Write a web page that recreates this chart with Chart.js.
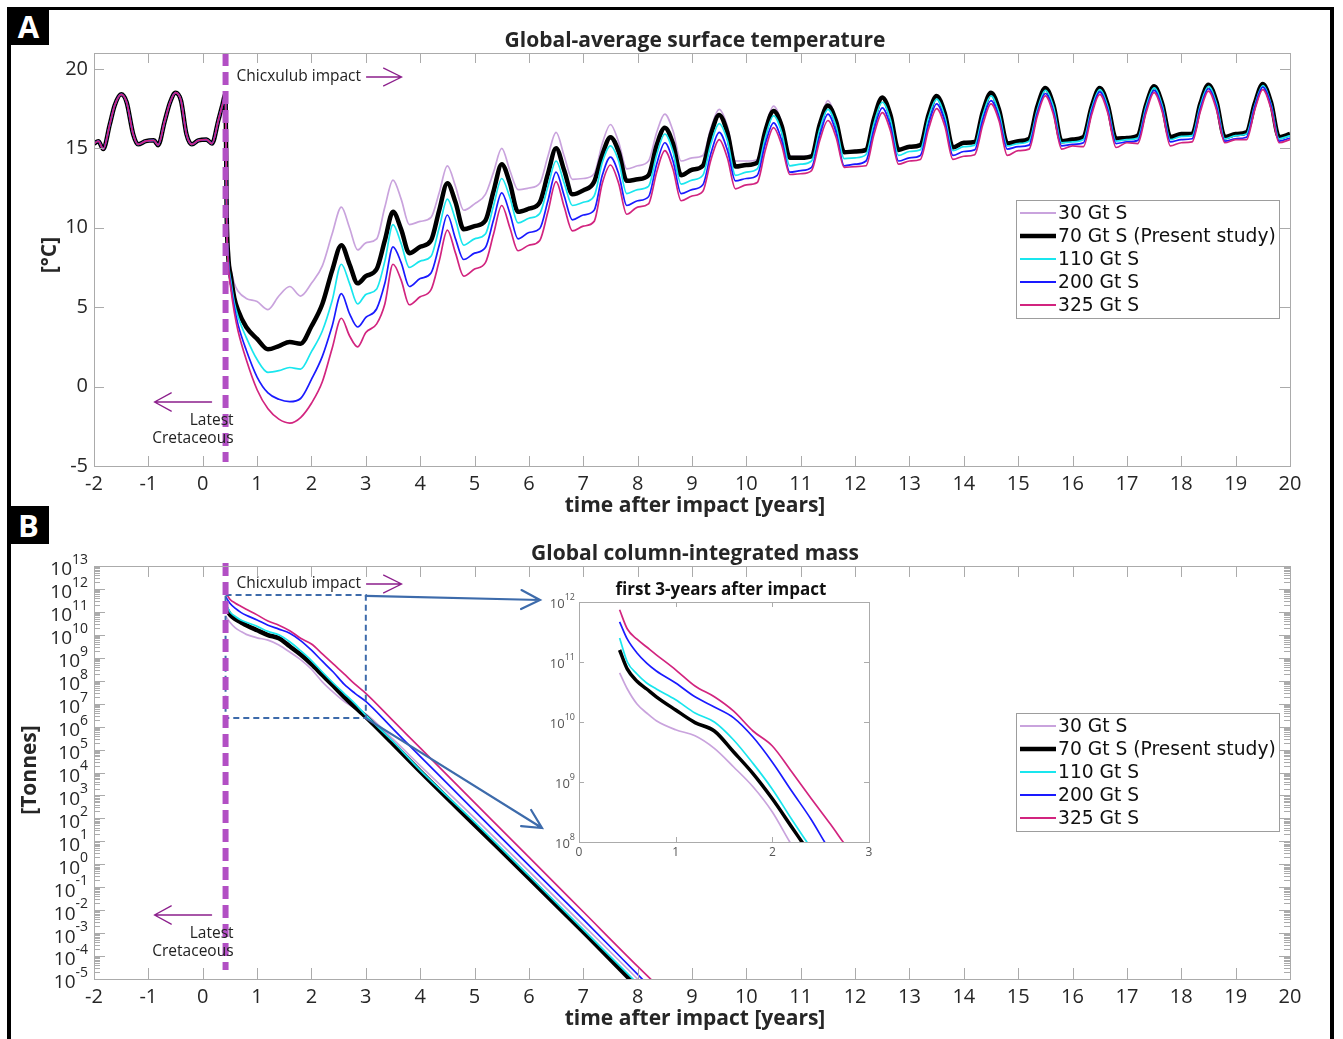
<!DOCTYPE html>
<html>
<head>
<meta charset="utf-8">
<script src="https://cdn.jsdelivr.net/npm/chart.js@4.4.1/dist/chart.umd.min.js"></script>
<style>
  body { margin: 0; background: #fff; width: 1343px; height: 1039px; overflow: hidden; position: relative; }
  canvas { position: absolute; }
  .bar { position: absolute; background: #000; }
  .tag { position: absolute; background: #000; color: #fff; font: bold 31px "Open Sans", sans-serif;
         text-align: center; line-height: 38px; width: 41px; height: 38px; left: 8px; }
</style>
</head>
<body>
<div class="bar" style="left:8px;top:7px;width:1326px;height:3px"></div>
<div class="bar" style="left:7px;top:7px;width:4px;height:1032px"></div>
<div class="bar" style="left:1330px;top:7px;width:4px;height:1032px"></div>
<div class="tag" style="top:7px">A</div>
<div class="tag" style="top:506px">B</div>

<canvas id="tempChart" width="1343" height="520" style="left:0;top:0"></canvas>
<canvas id="massChart" width="1343" height="519" style="left:0;top:520px"></canvas>
<canvas id="insetChart" width="370" height="300" style="left:520px;top:570px"></canvas>

<script>
// ---- data ----
const seriesLabels = ['30 Gt S', '70 Gt S (Present study)', '110 Gt S', '200 Gt S', '325 Gt S'];
const impactYear = 0.42;

const yearTicks = [-2, -1, 0, 1, 2, 3, 4, 5, 6, 7, 8, 9, 10, 11, 12, 13, 14, 15, 16, 17, 18, 19, 20];
const tempTicks = [-5, 0, 5, 10, 15, 20];
const massTickExps = [-5, -4, -3, -2, -1, 0, 1, 2, 3, 4, 5, 6, 7, 8, 9, 10, 11, 12, 13];
const insetYearTicks = [0, 1, 2, 3];
const insetTickExps = [8, 9, 10, 11, 12];

// surface temperature before the impact (same for every run)
const preImpactYears = [-2.0, -1.92, -1.83, -1.71, -1.62, -1.5, -1.4, -1.28, -1.19, -1.05, -0.9, -0.82,
  -0.7, -0.6, -0.5, -0.4, -0.3, -0.2, -0.08, 0.07, 0.17, 0.29, 0.36];
const preImpactTemp = [15.3, 15.45, 14.95, 16.5, 17.7, 18.4, 17.9, 15.9, 15.25, 15.45, 15.5, 15.2,
  16.7, 17.9, 18.5, 18.0, 15.9, 15.25, 15.5, 15.55, 15.3, 16.8, 17.7];

const postImpactYears = [0.42, 0.44, 0.47, 0.52, 0.58, 0.65, 0.8, 1.0, 1.2, 1.4, 1.6, 1.8, 2.0, 2.2, 2.38, 2.55, 2.7, 2.85,
  3.0, 3.2, 3.35, 3.5, 3.65, 3.8,
  4.0, 4.2, 4.35, 4.5, 4.65, 4.8,
  5.0, 5.2, 5.35, 5.5, 5.65, 5.8,
  6.0, 6.2, 6.35, 6.5, 6.65, 6.8,
  7.0, 7.2, 7.35, 7.5, 7.65, 7.8,
  8.0, 8.2, 8.35, 8.5, 8.65, 8.8,
  9.0, 9.2, 9.35, 9.5, 9.65, 9.8,
  10.0, 10.2, 10.35, 10.5, 10.65, 10.8,
  11.0, 11.2, 11.35, 11.5, 11.65, 11.8,
  12.0, 12.2, 12.35, 12.5, 12.65, 12.8,
  13.0, 13.2, 13.35, 13.5, 13.65, 13.8,
  14.0, 14.2, 14.35, 14.5, 14.65, 14.8,
  15.0, 15.2, 15.35, 15.5, 15.65, 15.8,
  16.0, 16.2, 16.35, 16.5, 16.65, 16.8,
  17.0, 17.2, 17.35, 17.5, 17.65, 17.8,
  18.0, 18.2, 18.35, 18.5, 18.65, 18.8,
  19.0, 19.2, 19.35, 19.5, 19.65, 19.8,
  20.0];

const temp30 = [18.4, 11.5, 8.6, 7.4, 6.5, 6.0, 5.55, 5.35, 4.85, 5.7, 6.3, 5.7, 6.5, 7.6, 9.6, 11.3, 10.0, 8.6,
  9.05, 9.3, 11.3, 13.0, 11.8, 10.2,
  10.4, 10.65, 12.2, 13.9, 12.6, 11.1,
  11.5, 12.1, 13.5, 15.0, 13.6, 12.4,
  12.5, 12.8, 14.5, 16.0, 14.5, 13.05,
  13.1, 13.4, 15.3, 16.5, 15.4, 13.7,
  13.9, 14.2, 16.0, 17.15, 16.1, 14.2,
  14.4, 14.55, 16.3, 17.45, 16.4, 14.2,
  14.2, 14.3, 16.3, 17.65, 16.6, 14.5,
  14.5, 14.6, 16.6, 18.0, 16.8, 14.8,
  14.85, 14.9, 16.9, 18.2, 17.1, 14.9,
  15.05, 15.15, 17.1, 18.25, 17.2, 15.0,
  15.3, 15.35, 17.2, 18.4, 17.3, 15.2,
  15.35, 15.5, 17.5, 18.75, 17.6, 15.4,
  15.5, 15.6, 17.55, 18.75, 17.65, 15.5,
  15.6, 15.7, 17.65, 18.85, 17.75, 15.6,
  15.8, 15.85, 17.75, 18.95, 17.85, 15.6,
  15.8, 15.9, 17.75, 19.0, 17.85, 15.6,
  15.85];

const temp70 = [18.4, 11.0, 8.2, 6.9, 5.6, 4.8, 3.75, 3.0, 2.35, 2.55, 2.8, 2.7, 3.8, 5.2, 7.3, 8.9, 7.7, 6.5,
  6.95, 7.4, 9.2, 11.0, 9.9, 8.4,
  8.8, 9.2, 11.1, 12.8, 11.6, 9.9,
  10.1, 10.45, 12.3, 14.0, 12.8, 11.0,
  11.2, 11.6, 13.4, 15.0, 13.6, 12.1,
  12.35, 12.9, 14.6, 15.7, 14.8, 12.95,
  13.05, 13.3, 15.2, 16.3, 15.3, 13.3,
  13.65, 13.9, 15.9, 17.1, 16.0, 13.85,
  13.95, 14.1, 16.1, 17.35, 16.4, 14.4,
  14.4, 14.5, 16.5, 17.7, 16.7, 14.75,
  14.8, 14.9, 16.9, 18.2, 17.1, 14.9,
  15.1, 15.2, 17.1, 18.3, 17.2, 15.05,
  15.35, 15.4, 17.3, 18.5, 17.4, 15.3,
  15.45, 15.6, 17.6, 18.8, 17.7, 15.45,
  15.55, 15.7, 17.6, 18.8, 17.7, 15.6,
  15.65, 15.8, 17.7, 18.9, 17.8, 15.7,
  15.9, 15.9, 17.8, 19.0, 17.9, 15.7,
  15.9, 16.0, 17.8, 19.05, 17.9, 15.7,
  15.9];

const temp110 = [18.4, 10.8, 8.0, 6.6, 5.3, 4.4, 3.1, 1.7, 0.9, 1.0, 1.2, 1.1, 2.2, 3.5, 5.4, 7.7, 6.5, 5.2,
  5.8, 6.15, 7.9, 10.2, 9.0, 7.5,
  7.9, 8.2, 10.0, 11.8, 10.5, 8.9,
  9.3, 9.6, 11.4, 13.1, 11.9, 10.3,
  10.6, 10.9, 12.6, 14.2, 12.8, 11.4,
  11.6, 12.0, 14.1, 15.15, 14.2, 12.15,
  12.4, 12.6, 14.6, 15.9, 14.8, 12.75,
  13.0, 13.3, 15.3, 16.55, 15.5, 13.3,
  13.5, 13.7, 15.7, 17.05, 16.0, 13.9,
  14.0, 14.2, 16.2, 17.45, 16.4, 14.35,
  14.4, 14.6, 16.6, 17.9, 16.8, 14.55,
  14.8, 14.9, 16.9, 18.1, 17.0, 14.85,
  15.1, 15.2, 17.1, 18.3, 17.2, 15.15,
  15.3, 15.45, 17.4, 18.65, 17.6, 15.35,
  15.4, 15.55, 17.5, 18.7, 17.6, 15.45,
  15.55, 15.65, 17.6, 18.8, 17.7, 15.55,
  15.75, 15.8, 17.7, 18.9, 17.8, 15.6,
  15.8, 15.9, 17.7, 18.95, 17.8, 15.6,
  15.8];

const temp200 = [18.4, 10.6, 7.8, 6.3, 5.0, 3.9, 2.3, 0.6, -0.4, -0.8, -0.95, -0.75, 0.45, 1.9, 3.8, 5.85, 4.6, 3.75,
  4.35, 4.9, 6.5, 8.8, 7.8, 6.3,
  6.8, 7.15, 8.9, 10.8, 9.3, 8.0,
  8.4, 8.75, 10.5, 12.2, 10.9, 9.3,
  9.7, 9.95, 11.7, 13.5, 12.0, 10.5,
  10.8, 11.1, 13.3, 14.45, 13.4, 11.4,
  11.7, 11.95, 14.0, 15.35, 14.2, 12.15,
  12.4, 12.7, 14.7, 16.0, 14.9, 12.95,
  13.1, 13.3, 15.3, 16.6, 15.5, 13.5,
  13.6, 13.8, 15.8, 17.15, 16.0, 13.9,
  14.0, 14.2, 16.2, 17.55, 16.4, 14.2,
  14.4, 14.55, 16.5, 17.8, 16.7, 14.55,
  14.8, 14.9, 16.8, 18.0, 16.9, 14.95,
  15.1, 15.2, 17.2, 18.45, 17.3, 15.15,
  15.25, 15.35, 17.3, 18.55, 17.4, 15.3,
  15.4, 15.5, 17.4, 18.65, 17.5, 15.4,
  15.55, 15.6, 17.5, 18.75, 17.6, 15.45,
  15.6, 15.7, 17.6, 18.85, 17.7, 15.45,
  15.65];

const temp325 = [18.4, 10.5, 7.7, 6.1, 4.7, 3.5, 1.7, -0.2, -1.4, -2.05, -2.3, -1.95, -1.05, 0.3, 2.4, 4.3, 3.2, 2.5,
  3.4, 3.95, 5.2, 7.7, 6.7, 5.15,
  5.65, 6.1, 7.9, 9.85, 8.4, 6.95,
  7.4, 7.8, 9.6, 11.4, 10.0, 8.55,
  8.9, 9.2, 11.0, 12.9, 11.3, 9.8,
  10.1, 10.4, 12.8, 13.95, 12.8, 10.85,
  11.3, 11.5, 13.5, 14.85, 13.7, 11.7,
  12.0, 12.3, 14.3, 15.55, 14.4, 12.45,
  12.7, 12.85, 14.9, 16.3, 15.2, 13.35,
  13.4, 13.6, 15.5, 16.75, 15.7, 13.8,
  13.85, 13.9, 15.9, 17.25, 16.1, 14.0,
  14.2, 14.3, 16.2, 17.5, 16.4, 14.3,
  14.5, 14.6, 16.5, 17.8, 16.7, 14.55,
  14.85, 14.95, 17.0, 18.3, 17.1, 14.95,
  15.15, 15.1, 17.1, 18.4, 17.2, 15.05,
  15.35, 15.3, 17.2, 18.5, 17.3, 15.15,
  15.35, 15.4, 17.3, 18.6, 17.4, 15.35,
  15.55, 15.55, 17.4, 18.7, 17.5, 15.35,
  15.55];

// column-integrated mass, as log10(tonnes)
const massYears = [0.42, 0.5, 0.6, 0.7, 0.8, 1.0, 1.2, 1.4, 1.6, 1.8, 2.0, 2.2, 2.4, 2.6, 2.8, 3.0, 3.5, 4.0, 5.0, 6.0, 7.0, 8.0, 8.5];
const mass30  = [10.82, 10.55, 10.3, 10.15, 10.02, 9.87, 9.77, 9.56, 9.25, 8.92, 8.5, 7.95, 7.5, 7.1, 6.8, 6.55, 5.45, 4.3, 2.02, -0.3, -2.65, -5.0, -6.2];
const mass70  = [11.2, 10.88, 10.68, 10.55, 10.42, 10.2, 9.99, 9.85, 9.5, 9.14, 8.72, 8.25, 7.78, 7.3, 6.85, 6.43, 5.25, 4.05, 1.72, -0.6, -2.95, -5.35, -6.5];
const mass110 = [11.4, 11.0, 10.8, 10.65, 10.55, 10.37, 10.15, 10.0, 9.7, 9.31, 8.88, 8.38, 7.9, 7.45, 7.0, 6.5, 5.35, 4.1, 1.84, -0.5, -2.85, -5.2, -6.4];
const mass200 = [11.67, 11.38, 11.15, 10.98, 10.85, 10.65, 10.42, 10.25, 10.07, 9.75, 9.33, 8.85, 8.38, 7.85, 7.45, 7.1, 5.9, 4.7, 2.33, -0.05, -2.4, -4.8, -6.0];
const mass325 = [11.87, 11.55, 11.38, 11.25, 11.12, 10.87, 10.6, 10.42, 10.18, 9.85, 9.6, 9.17, 8.73, 8.3, 7.85, 7.45, 6.26, 5.07, 2.69, 0.31, -2.07, -4.45, -5.6];

// zoomed region marked on the mass panel (years, log10 tonnes)
const zoomBoxYears = [impactYear, 3];
const zoomBoxExps = [11.74, 6.37];

// ---- styles ----
const seriesStyles = [
  { color: '#c9a3dd', width: 1.7 },
  { color: '#000000', width: 4.5 },
  { color: '#19e6ee', width: 1.7 },
  { color: '#1a1aff', width: 1.7 },
  { color: '#d2247f', width: 1.7 }
];
const TXT = '#262626';
const AXIS = '#ababab';
const IMPACT = '#b24fc4';
const NOTE = '#8c1f8c';
const ZOOM = '#3d6bab';

const tempSeries = [temp30, temp70, temp110, temp200, temp325];
const massSeries = [mass30, mass70, mass110, mass200, mass325];

function tempPoints(vals) {
  return preImpactYears.map((x, i) => ({ x, y: preImpactTemp[i] }))
    .concat(postImpactYears.map((x, i) => ({ x, y: vals[i] })));
}
function massPoints(exps) {
  return massYears.map((x, i) => ({ x, y: Math.pow(10, exps[i]) }));
}
function makeDatasets(seriesList, toPoints, blackWidth) {
  return seriesList.map((vals, i) => ({
    label: seriesLabels[i],
    data: toPoints(vals),
    borderColor: seriesStyles[i].color,
    borderWidth: i === 1 ? blackWidth : seriesStyles[i].width,
    pointRadius: 0,
    fill: false,
    cubicInterpolationMode: 'monotone',
    clip: 0,
    order: 5 - i   // magenta on top, lavender at the bottom
  }));
}

// ---- drawing helpers ----
function text(ctx, str, x, y, font, align, color, rot) {
  ctx.save();
  ctx.font = font;
  ctx.fillStyle = color || TXT;
  ctx.textAlign = align || 'center';
  ctx.textBaseline = 'middle';
  ctx.translate(x, y);
  if (rot) ctx.rotate(rot);
  ctx.fillText(str, 0, 0);
  ctx.restore();
}

function arrow(ctx, x1, y1, x2, y2, color, width, head, spread) {
  const a = Math.atan2(y2 - y1, x2 - x1);
  ctx.save();
  ctx.strokeStyle = color;
  ctx.lineWidth = width;
  ctx.lineCap = 'round';
  ctx.beginPath();
  ctx.moveTo(x1, y1); ctx.lineTo(x2, y2);
  ctx.moveTo(x2 - head * Math.cos(a - spread), y2 - head * Math.sin(a - spread));
  ctx.lineTo(x2, y2);
  ctx.lineTo(x2 - head * Math.cos(a + spread), y2 - head * Math.sin(a + spread));
  ctx.stroke();
  ctx.restore();
}

function impactLine(ctx, x, top, bottom) {
  ctx.save();
  ctx.strokeStyle = IMPACT;
  ctx.lineWidth = 6;
  ctx.setLineDash([13, 6]);
  ctx.beginPath(); ctx.moveTo(x, top); ctx.lineTo(x, bottom); ctx.stroke();
  ctx.restore();
}

function impactNotes(ctx, ix, yImpact, yArrow, yLatest) {
  const f = '15.5px "Open Sans"';
  text(ctx, 'Chicxulub impact', ix + 11, yImpact, f, 'left', '#222');
  arrow(ctx, ix + 141, yImpact, ix + 176, yImpact, NOTE, 1.3, 20, 0.46);
  arrow(ctx, ix - 14, yArrow, ix - 71, yArrow, NOTE, 1.3, 19, 0.5);
  text(ctx, 'Latest', ix + 8, yLatest, f, 'right', '#222');
  text(ctx, 'Cretaceous', ix + 8, yLatest + 18, f, 'right', '#222');
}

// MATLAB-like box with inward ticks
function axesBox(chart, len, minorLen) {
  const { ctx, chartArea: a, scales: { x, y } } = chart;
  ctx.save();
  ctx.strokeStyle = AXIS;
  ctx.lineWidth = 1;
  ctx.strokeRect(a.left + 0.5, a.top + 0.5, a.right - a.left, a.bottom - a.top);
  ctx.beginPath();
  x.ticks.forEach(t => {
    const px = Math.round(x.getPixelForValue(t.value)) + 0.5;
    ctx.moveTo(px, a.bottom); ctx.lineTo(px, a.bottom - len);
    ctx.moveTo(px, a.top); ctx.lineTo(px, a.top + len);
  });
  y.ticks.forEach(t => {
    const py = Math.round(y.getPixelForValue(t.value)) + 0.5;
    ctx.moveTo(a.left, py); ctx.lineTo(a.left + len, py);
    ctx.moveTo(a.right, py); ctx.lineTo(a.right - len, py);
  });
  if (minorLen) {
    for (let i = 0; i < y.ticks.length - 1; i++) {
      const base = y.ticks[i].value;
      for (let k = 2; k <= 9; k++) {
        const py = Math.round(y.getPixelForValue(base * k)) + 0.5;
        ctx.moveTo(a.left, py); ctx.lineTo(a.left + minorLen, py);
        ctx.moveTo(a.right, py); ctx.lineTo(a.right - minorLen, py);
      }
    }
  }
  ctx.stroke();
  ctx.restore();
}

// "10" with a raised exponent at each decade of a log axis
function powerLabels(chart, right, baseFont, expFont, color, dy) {
  const { ctx, scales: { y } } = chart;
  ctx.save();
  ctx.fillStyle = color;
  ctx.textBaseline = 'middle';
  y.ticks.forEach(t => {
    const py = y.getPixelForValue(t.value);
    const e = String(Math.round(Math.log10(t.value)));
    ctx.font = expFont;
    const ew = ctx.measureText(e).width;
    ctx.textAlign = 'left';
    ctx.fillText(e, right - ew, py - dy[1]);
    ctx.font = baseFont;
    ctx.textAlign = 'right';
    ctx.fillText('10', right - ew, py + dy[0]);
  });
  ctx.restore();
}

function legendBox(ctx, left, top) {
  const w = 263, h = 118;
  ctx.save();
  ctx.fillStyle = '#fff';
  ctx.fillRect(left, top, w, h);
  ctx.strokeStyle = '#9d9d9d';
  ctx.lineWidth = 1;
  ctx.strokeRect(left + 0.5, top + 0.5, w, h);
  ctx.font = '18.7px "DejaVu Sans"';
  ctx.textBaseline = 'middle';
  ctx.textAlign = 'left';
  seriesLabels.forEach((label, i) => {
    const y = top + 13 + i * 23;
    ctx.strokeStyle = seriesStyles[i].color;
    ctx.lineWidth = i === 1 ? 4.5 : 2;
    ctx.beginPath(); ctx.moveTo(left + 4, y); ctx.lineTo(left + 40, y); ctx.stroke();
    ctx.fillStyle = '#111';
    ctx.fillText(label, left + 42, y + 1);
  });
  ctx.restore();
}

function fixedTicks(values, transform) {
  return scale => { scale.ticks = values.map(v => ({ value: transform ? transform(v) : v })); };
}

const tickFont = { family: 'Open Sans', size: 20 };
const baseOptions = {
  responsive: false,
  animation: false,
  events: [],
  plugins: { legend: { display: false }, tooltip: { enabled: false } }
};

// ---- panel A: surface temperature ----
const tempDecor = {
  id: 'tempDecor',
  afterDatasetsDraw(chart) {
    const { ctx, chartArea: a, scales: { x } } = chart;
    const ix = x.getPixelForValue(impactYear);
    impactLine(ctx, ix, a.top, a.bottom - 4);
    impactNotes(ctx, ix, 77, 402, 421);
    axesBox(chart, 10, 0);
    legendBox(ctx, 1016, 200);
    const bold = 'bold 21px "Open Sans"';
    text(ctx, 'Global-average surface temperature', 695, 41, bold);
    text(ctx, 'time after impact [years]', 695, 506, bold);
    text(ctx, '[°C]', 50, 255, bold, 'center', TXT, -Math.PI / 2);
  }
};

new Chart(document.getElementById('tempChart'), {
  type: 'line',
  data: { datasets: makeDatasets(tempSeries, tempPoints, 4.5) },
  options: {
    ...baseOptions,
    layout: { padding: { top: 53, right: 53, left: 0, bottom: 0 } },
    scales: {
      x: {
        type: 'linear', min: -2, max: 20,
        afterBuildTicks: fixedTicks(yearTicks),
        afterFit: s => { s.height = 54; },
        grid: { display: false, drawTicks: false }, border: { display: false },
        ticks: { color: TXT, font: tickFont, padding: 6, maxRotation: 0, autoSkip: false }
      },
      y: {
        type: 'linear', min: -5, max: 21,
        afterBuildTicks: fixedTicks(tempTicks),
        afterFit: s => { s.width = 94; },
        grid: { display: false, drawTicks: false }, border: { display: false },
        ticks: { color: TXT, font: tickFont, padding: 6 }
      }
    }
  },
  plugins: [tempDecor]
});

// ---- panel B: column-integrated mass ----
const massDecor = {
  id: 'massDecor',
  afterDatasetsDraw(chart) {
    const { ctx, chartArea: a, scales: { x, y } } = chart;
    const ix = x.getPixelForValue(impactYear);

    // zoom box and pointers to the inset
    const bx0 = x.getPixelForValue(zoomBoxYears[0]);
    const bx1 = x.getPixelForValue(zoomBoxYears[1]);
    const by0 = y.getPixelForValue(Math.pow(10, zoomBoxExps[0]));
    const by1 = y.getPixelForValue(Math.pow(10, zoomBoxExps[1]));
    ctx.save();
    ctx.strokeStyle = ZOOM;
    ctx.lineWidth = 2;
    ctx.setLineDash([6, 4]);
    ctx.strokeRect(bx0, by0, bx1 - bx0, by1 - by0);
    ctx.restore();
    arrow(ctx, bx1, by0 + 1, 540, 80, ZOOM, 2.2, 21, 0.47);
    arrow(ctx, bx1, by1, 542, 308, ZOOM, 2.2, 21, 0.47);

    impactLine(ctx, ix, a.top - 3, 450);
    impactNotes(ctx, ix, 64, 395, 414);
    axesBox(chart, 11, 6);
    powerLabels(chart, 88, '19px "Open Sans"', '14px "Open Sans"', TXT, [4, 6]);
    legendBox(ctx, 1016, 193);
    const bold = 'bold 21px "Open Sans"';
    text(ctx, 'Global column-integrated mass', 695, 34, bold);
    text(ctx, 'time after impact [years]', 695, 499, bold);
    text(ctx, '[Tonnes]', 30, 250, bold, 'center', TXT, -Math.PI / 2);
  }
};

new Chart(document.getElementById('massChart'), {
  type: 'line',
  data: { datasets: makeDatasets(massSeries, massPoints, 4.5) },
  options: {
    ...baseOptions,
    layout: { padding: { top: 46, right: 53, left: 0, bottom: 0 } },
    scales: {
      x: {
        type: 'linear', min: -2, max: 20,
        afterBuildTicks: fixedTicks(yearTicks),
        afterFit: s => { s.height = 60; },
        grid: { display: false, drawTicks: false }, border: { display: false },
        ticks: { color: TXT, font: tickFont, padding: 6, maxRotation: 0, autoSkip: false }
      },
      y: {
        type: 'logarithmic', min: 1e-5, max: 1e13,
        afterBuildTicks: fixedTicks(massTickExps, e => Math.pow(10, e)),
        afterFit: s => { s.width = 94; },
        grid: { display: false, drawTicks: false }, border: { display: false },
        ticks: { display: false }
      }
    }
  },
  plugins: [massDecor]
});

// ---- inset: first three years ----
const insetDecor = {
  id: 'insetDecor',
  afterDatasetsDraw(chart) {
    const { ctx } = chart;
    axesBox(chart, 5, 0);
    powerLabels(chart, 55, '13px "Open Sans"', '9px "Open Sans"', '#555', [2, 5]);
    text(ctx, 'first 3-years after impact', 201, 20, 'bold 17px "Open Sans"', 'center', '#111');
  }
};

new Chart(document.getElementById('insetChart'), {
  type: 'line',
  data: { datasets: makeDatasets(massSeries, massPoints, 3.5) },
  options: {
    ...baseOptions,
    layout: { padding: { top: 32, right: 21, left: 0, bottom: 0 } },
    scales: {
      x: {
        type: 'linear', min: 0, max: 3,
        afterBuildTicks: fixedTicks(insetYearTicks),
        afterFit: s => { s.height = 28; },
        grid: { display: false, drawTicks: false }, border: { display: false },
        ticks: { color: '#555', font: { family: 'Open Sans', size: 12 }, padding: 3, maxRotation: 0, autoSkip: false }
      },
      y: {
        type: 'logarithmic', min: 1e8, max: 1e12,
        afterBuildTicks: fixedTicks(insetTickExps, e => Math.pow(10, e)),
        afterFit: s => { s.width = 59; },
        grid: { display: false, drawTicks: false }, border: { display: false },
        ticks: { display: false }
      }
    }
  },
  plugins: [insetDecor]
});
</script>
</body>
</html>
